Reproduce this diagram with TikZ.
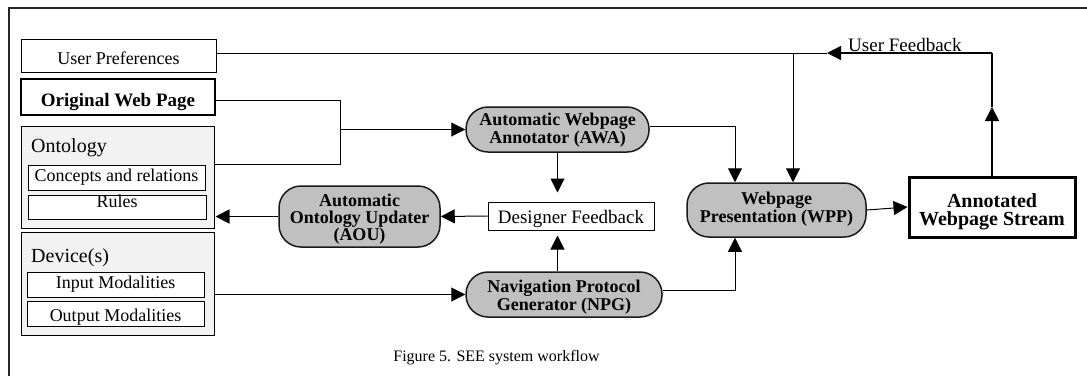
\documentclass[tikz,border=0pt]{standalone}
\usepackage{fontspec}
\setmainfont{Liberation Serif}
\usetikzlibrary{arrows.meta}
\definecolor{procgray}{HTML}{C0C0C0}
\definecolor{panelgray}{HTML}{F2F2F2}
\newcommand\fsz[2]{\fontsize{#1}{#2}\selectfont}
\tikzset{
  box/.style={draw, line width=1pt, inner sep=0pt, fill=white, text depth=0pt},
  panel/.style={draw, line width=1pt, inner sep=0pt, fill=panelgray},
  proc/.style={draw=black!90, line width=1.5pt, fill=procgray, rounded corners=22pt,
    inner sep=0pt, align=center, font=\bfseries\fsz{18}{18}, text depth=3pt},
  ln/.style={line width=1pt},
  arr/.style={line width=1pt, -{Triangle[length=14pt,width=14pt]}},
  lbl/.style={inner sep=0pt},
}
\begin{document}
\begin{tikzpicture}[x=1pt,y=-1pt]
\useasboundingbox (0,0) rectangle (1087,376);
% outer frame
\draw[line width=1.5pt, black!85] (9,376) -- (9,8) -- (1087,8);

% left column
\node[box, minimum width=195pt, minimum height=33pt, text height=17pt, font=\fsz{18}{18}] (up) at (118.5,55.5) {User Preferences};
\node[box, line width=2.5pt, minimum width=194pt, minimum height=36pt, text height=18pt, font=\bfseries\fsz{19}{19}] (owp) at (118,97) {Original Web Page};

\node[panel, minimum width=193pt, minimum height=102pt] (onto) at (117.5,177) {};
\node[lbl, anchor=base west, font=\fsz{20}{20}] (ontol) at (31,152) {Ontology};
\node[box, minimum width=177pt, minimum height=25pt, text height=7pt, font=\fsz{18}{18}] (conc) at (116.5,177.5) {Concepts and relations};
\node[box, minimum width=178pt, minimum height=24pt, text height=0pt, font=\fsz{18}{18}] (rules) at (117,207) {Rules};

\node[panel, minimum width=193pt, minimum height=103pt] (dev) at (117.5,283.5) {};
\node[lbl, anchor=base west, font=\fsz{20}{20}] (devl) at (31,262) {Device(s)};
\node[box, minimum width=177pt, minimum height=25pt, text height=7pt, font=\fsz{18}{18}] (inp) at (115.5,284.5) {Input Modalities};
\node[box, minimum width=177pt, minimum height=25pt, text height=15pt, font=\fsz{18}{18}] (outp) at (115.5,313.5) {Output Modalities};

% process nodes
\node[proc, minimum width=183pt, minimum height=45pt, text height=30pt] (awa) at (557.5,129.5) {Automatic Webpage\\Annotator (AWA)};
\node[proc, minimum width=161pt, minimum height=61pt, font=\bfseries\fsz{18}{17}, text height=50pt] (aou) at (359.5,216.5) {Automatic\\Ontology Updater\\(AOU)};
\node[box, minimum width=166pt, minimum height=28pt, text height=14pt, font=\fsz{19}{19}] (df) at (571,216) {Designer Feedback};
\node[proc, minimum width=196pt, minimum height=45pt, text height=34pt] (npg) at (564,294.5) {Navigation Protocol\\Generator (NPG)};
\node[proc, minimum width=179pt, minimum height=54pt, text height=27pt] (wpp) at (776.5,210) {Webpage\\Presentation (WPP)};
\node[draw, line width=3pt, inner sep=0pt, minimum width=166pt, minimum height=60pt, align=center, font=\bfseries\fsz{20}{18}, text height=39pt, text depth=3pt] (ann) at (992,207) {Annotated\\Webpage Stream};

\node[lbl, anchor=base west, font=\fsz{19}{19}] (ufl) at (848,51) {User Feedback};
\node[lbl, anchor=base, font=\fsz{16}{16}] (cap) at (496.5,361) {Figure 5. SEE system workflow};

% junction coordinates
\coordinate (j1) at (793,53);
\coordinate (fbc) at (992,53);
\coordinate (fba) at (827,53);
\coordinate (fbm) at (992,107);
\coordinate (owpc) at (340,100);
\coordinate (j2) at (340,129.5);
\coordinate (j3) at (735,126);
\coordinate (j4) at (735,290);

% connectors
\draw[ln] (up.east |- j1) -- (j1);
\draw[arr] (j1) -- (j1 |- wpp.north);
\draw[arr, line width=1.8pt] (ann.north) -- (fbm);
\draw[line width=1.8pt] (fbm) -- (fbc);
\draw[arr, line width=1.3pt] (fbc) -- (fba);
\draw[ln] (fba) -- (j1);

\draw[ln] (owp.east |- owpc) -- (owpc) |- (onto.east |- conc.north);
\draw[arr] (j2) -- (awa.west);
\draw[arr] (awa.east |- j3) -- (j3) -- (j3 |- wpp.north);
\draw[arr, shorten >=9pt] (awa.south) -- (awa.south |- df.north);
\draw[arr, shorten >=5pt] (npg.north -| awa.south) -- (awa.south |- df.south);
\draw[arr] (df.west) -- (aou.east);
\draw[arr, line width=1.8pt, shorten >=1pt] (aou.west) -- (onto.east |- aou.west);
\draw[arr] (dev.east |- npg.west) -- (npg.west);
\draw[arr] (npg.east |- j4) -- (j4) -- (j4 |- wpp.south);
\draw[arr] (wpp.east) -- (ann.west);
\end{tikzpicture}
\end{document}
